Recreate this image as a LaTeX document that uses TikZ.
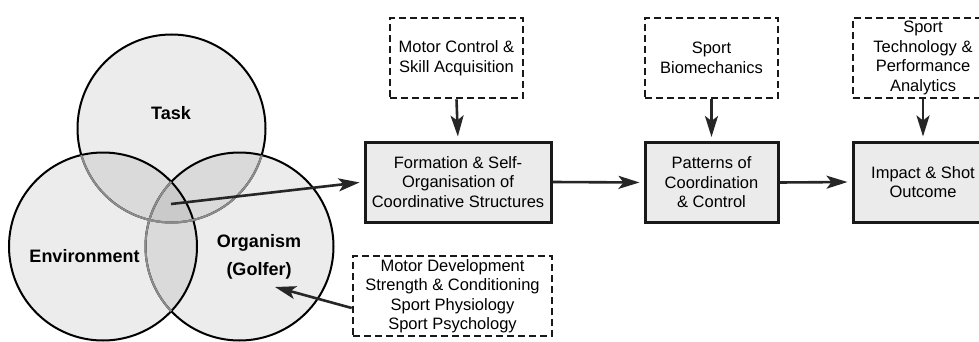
\documentclass[tikz,border=0pt]{standalone}
\usepackage{fontspec}
\setmainfont{Liberation Sans}
\usetikzlibrary{arrows.meta}
\definecolor{boxgray}{RGB}{235,235,235}
\definecolor{venngray}{RGB}{140,140,140}
\tikzset{every picture/.style={/utils/exec={\fontsize{16.5}{19.5}\selectfont}}}
\tikzset{
  procbox/.style={draw=black!90, line width=3pt, fill=boxgray, align=center, minimum height=80pt, inner sep=2pt},
  fieldbox/.style={draw=black!90, line width=2.6pt, dash pattern=on 7pt off 4pt, fill=white, align=center, minimum height=80pt, inner sep=2pt},
  arr/.style={-{Stealth[length=21pt,width=13pt,inset=5pt]}, line width=2.6pt, draw=black!85, shorten >=4pt},
  venn/.style={fill=black, fill opacity=0.075, line width=2pt},
  venntext/.style={font=\fontsize{18}{28}\selectfont\bfseries, align=center}
}

\begin{document}
\begin{tikzpicture}[x=1pt, y=-1pt]
  \useasboundingbox (0,0) rectangle (979,342);

  % constraints
  \coordinate (taskc) at (171.5,128.5);
  \coordinate (envc) at (103,246.5);
  \coordinate (orgc) at (239.5,246.5);
  \foreach \c in {taskc,orgc,envc}
    \draw [venn] (\c) circle [radius=94];
  \begin{scope}
    \clip (envc) circle [radius=94];
    \draw [venngray, line width=2pt] (taskc) circle [radius=94] (orgc) circle [radius=94];
  \end{scope}
  \begin{scope}
    \clip (orgc) circle [radius=94];
    \draw [venngray, line width=2pt] (taskc) circle [radius=94];
  \end{scope}
  \node [venntext] (task) at (171,113) {Task};
  \node [venntext] (env) at (84.5,256) {Environment};
  \node [venntext] (org) at (259,257) {Organism\\(Golfer)};
  \coordinate (vennmid) at (171,204);
  \coordinate (orgtip) at (275,287);

  % process
  \node [procbox, minimum width=186pt] (form) at (458,182) {Formation \& Self-\\Organisation of\\Coordinative Structures};
  \node [procbox, minimum width=133pt] (patt) at (711.5,182.5) {Patterns of\\Coordination\\\& Control};
  \node [procbox, minimum width=140pt] (imp) at (923,182) {Impact \& Shot\\Outcome};

  % disciplines
  \node [fieldbox, minimum width=133pt] (mc) at (456.5,58) {Motor Control \&\\Skill Acquisition};
  \node [fieldbox, minimum width=133pt] (bio) at (711.5,58) {Sport\\Biomechanics};
  \node [fieldbox, minimum width=140pt, inner ysep=0pt] (tech) at (923,58) {Sport\\Technology \&\\Performance\\Analytics};
  \node [fieldbox, minimum width=199pt] (dev) at (452.5,296) {Motor Development\\Strength \& Conditioning\\Sport Physiology\\Sport Psychology};

  \draw [arr] (vennmid) -- (form.west);
  \draw [arr] (form.east) -- (patt.west);
  \draw [arr] (patt.east) -- (imp.west);
  \foreach \s/\t in {mc/form, bio/patt, tech/imp}
    \draw [arr] (\s.south) -- (\t.north);
  \draw [arr, shorten >=0pt] ([yshift=-12pt]dev.west) -- (orgtip);
\end{tikzpicture}
\end{document}
